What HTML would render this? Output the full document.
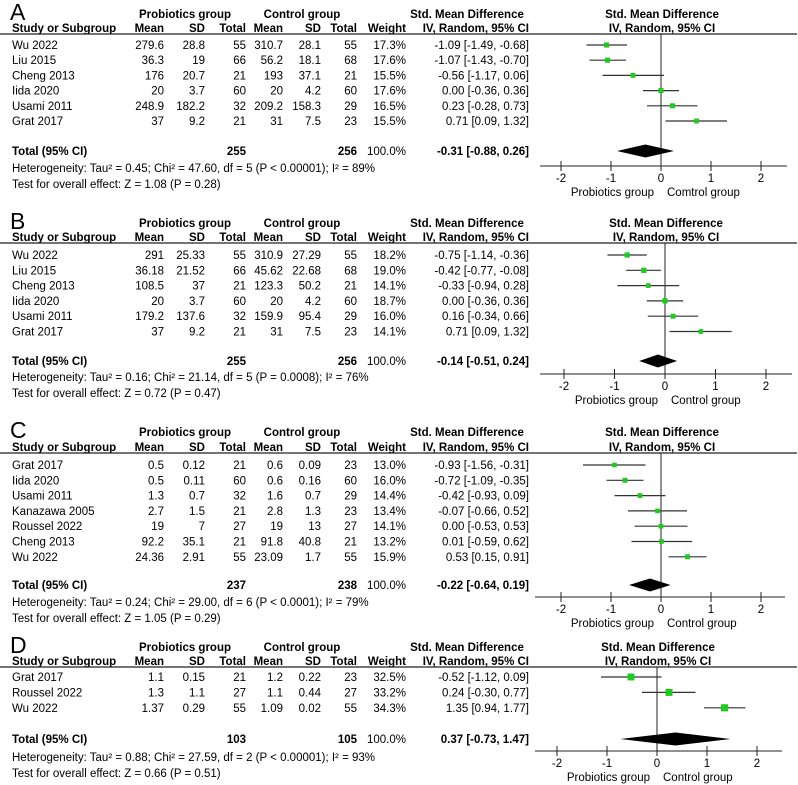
<!DOCTYPE html>
<html><head><meta charset="utf-8"><style>
html,body{margin:0;padding:0;background:#fff}
svg{display:block;font-family:"Liberation Sans",Arial,sans-serif}
</style></head><body>
<svg id="chart" width="798" height="785" viewBox="0 0 798 785" xmlns="http://www.w3.org/2000/svg"></svg>
<script>
// ---- Panel A data ----
const aStudies=["Wu 2022","Liu 2015","Cheng 2013","Iida 2020","Usami 2011","Grat 2017"];
const aTable=[["279.6","28.8","55","310.7","28.1","55","17.3%"],["36.3","19","66","56.2","18.1","68","17.6%"],["176","20.7","21","193","37.1","21","15.5%"],["20","3.7","60","20","4.2","60","17.6%"],["248.9","182.2","32","209.2","158.3","29","16.5%"],["37","9.2","21","31","7.5","23","15.5%"]];
const aSmd=[-1.09,-1.07,-0.56,0.00,0.23,0.71];
const aLo=[-1.49,-1.43,-1.17,-0.36,-0.28,0.09];
const aHi=[-0.68,-0.70,0.06,0.36,0.73,1.32];
const aWeight=[17.3,17.6,15.5,17.6,16.5,15.5];
const aTotal=[-0.31,-0.88,0.26];
const aTotals=["255","256"];
const aHet="Heterogeneity: Tau² = 0.45; Chi² = 47.60, df = 5 (P < 0.00001); I² = 89%";
const aTest="Test for overall effect: Z = 1.08 (P = 0.28)";
// ---- Panel B data ----
const bStudies=["Wu 2022","Liu 2015","Cheng 2013","Iida 2020","Usami 2011","Grat 2017"];
const bTable=[["291","25.33","55","310.9","27.29","55","18.2%"],["36.18","21.52","66","45.62","22.68","68","19.0%"],["108.5","37","21","123.3","50.2","21","14.1%"],["20","3.7","60","20","4.2","60","18.7%"],["179.2","137.6","32","159.9","95.4","29","16.0%"],["37","9.2","21","31","7.5","23","14.1%"]];
const bSmd=[-0.75,-0.42,-0.33,0.00,0.16,0.71];
const bLo=[-1.14,-0.77,-0.94,-0.36,-0.34,0.09];
const bHi=[-0.36,-0.08,0.28,0.36,0.66,1.32];
const bWeight=[18.2,19.0,14.1,18.7,16.0,14.1];
const bTotal=[-0.14,-0.51,0.24];
const bTotals=["255","256"];
const bHet="Heterogeneity: Tau² = 0.16; Chi² = 21.14, df = 5 (P = 0.0008); I² = 76%";
const bTest="Test for overall effect: Z = 0.72 (P = 0.47)";
// ---- Panel C data ----
const cStudies=["Grat 2017","Iida 2020","Usami 2011","Kanazawa 2005","Roussel 2022","Cheng 2013","Wu 2022"];
const cTable=[["0.5","0.12","21","0.6","0.09","23","13.0%"],["0.5","0.11","60","0.6","0.16","60","16.0%"],["1.3","0.7","32","1.6","0.7","29","14.4%"],["2.7","1.5","21","2.8","1.3","23","13.4%"],["19","7","27","19","13","27","14.1%"],["92.2","35.1","21","91.8","40.8","21","13.2%"],["24.36","2.91","55","23.09","1.7","55","15.9%"]];
const cSmd=[-0.93,-0.72,-0.42,-0.07,0.00,0.01,0.53];
const cLo=[-1.56,-1.09,-0.93,-0.66,-0.53,-0.59,0.15];
const cHi=[-0.31,-0.35,0.09,0.52,0.53,0.62,0.91];
const cWeight=[13.0,16.0,14.4,13.4,14.1,13.2,15.9];
const cTotal=[-0.22,-0.64,0.19];
const cTotals=["237","238"];
const cHet="Heterogeneity: Tau² = 0.24; Chi² = 29.00, df = 6 (P < 0.0001); I² = 79%";
const cTest="Test for overall effect: Z = 1.05 (P = 0.29)";
// ---- Panel D data ----
const dStudies=["Grat 2017","Roussel 2022","Wu 2022"];
const dTable=[["1.1","0.15","21","1.2","0.22","23","32.5%"],["1.3","1.1","27","1.1","0.44","27","33.2%"],["1.37","0.29","55","1.09","0.02","55","34.3%"]];
const dSmd=[-0.52,0.24,1.35];
const dLo=[-1.12,-0.30,0.94];
const dHi=[0.09,0.77,1.77];
const dWeight=[32.5,33.2,34.3];
const dTotal=[0.37,-0.73,1.47];
const dTotals=["103","105"];
const dHet="Heterogeneity: Tau² = 0.88; Chi² = 27.59, df = 2 (P < 0.00001); I² = 93%";
const dTest="Test for overall effect: Z = 0.66 (P = 0.51)";
const axisTicks=[-2,-1,0,1,2];

const svg=document.getElementById('chart');
const NS="http://www.w3.org/2000/svg";
const FS=11.5;
function mk(tag,attrs,txt){const e=document.createElementNS(NS,tag);for(const k in attrs)e.setAttribute(k,attrs[k]);if(txt!==undefined)e.textContent=txt;svg.appendChild(e);return e;}
const colX=[164,205,246,283,321,357,406];
function fmt(v){return v.toFixed(2);}
function ci(t){return fmt(t[0])+" ["+fmt(t[1])+", "+fmt(t[2])+"]";}

function panel(L){
  const xs=v=>L.x0+v*L.unit;
  let t;
  t=mk('text',{x:10,y:L.h1+6,'font-size':23});t.textContent=L.letter;
  
  const hdr=[["Probiotics group",185],["Control group",302],["Std. Mean Difference",467],["Std. Mean Difference",L.x0+1]];
  hdr.forEach(h=>{t=mk('text',{x:h[1],y:L.h1+4,'font-size':FS,'font-weight':'bold','text-anchor':'middle'},h[0]);});
  t=mk('text',{x:12,y:L.line-2,'font-size':FS,'font-weight':'bold'},"Study or Subgroup");
  ["Mean","SD","Total","Mean","SD","Total","Weight"].forEach((h,i)=>{t=mk('text',{x:colX[i],y:L.line-2,'font-size':FS,'font-weight':'bold','text-anchor':'end'},h);});
  t=mk('text',{x:529,y:L.line-2,'font-size':FS,'font-weight':'bold','text-anchor':'end'},"IV, Random, 95% CI");
  t=mk('text',{x:L.x0+1,y:L.line-2,'font-size':FS,'font-weight':'bold','text-anchor':'middle'},"IV, Random, 95% CI");
  t=mk('line',{x1:0,y1:L.line,x2:797,y2:L.line,stroke:'#222','stroke-width':1.2});
  t=mk('line',{x1:xs(0),y1:L.line,x2:xs(0),y2:L.axis,stroke:'#222','stroke-width':1});
  L.studies.forEach((s,i)=>{
    const y=L.row0+i*L.step;
    t=mk('text',{x:12,y:y+4,'font-size':FS},s);
    L.table[i].forEach((v,j)=>{t=mk('text',{x:colX[j],y:y+4,'font-size':FS,'text-anchor':'end'},v);});
    t=mk('text',{x:529,y:y+4,'font-size':FS,'text-anchor':'end'},ci([L.smd[i],L.lo[i],L.hi[i]]));
    t=mk('line',{x1:xs(L.lo[i]),y1:y,x2:xs(L.hi[i]),y2:y,stroke:'#333','stroke-width':1.2});
    const sz=3+L.wt[i]*0.12;
    t=mk('rect',{x:xs(L.smd[i])-sz/2,y:y-sz/2,width:sz,height:sz,fill:'#1ccc1c'});
  });
  const ty=L.total;
  t=mk('text',{x:12,y:ty+4,'font-size':FS,'font-weight':'bold'},"Total (95% CI)");
  t=mk('text',{x:colX[2],y:ty+4,'font-size':FS,'font-weight':'bold','text-anchor':'end'},L.totals[0]);
  t=mk('text',{x:colX[5],y:ty+4,'font-size':FS,'font-weight':'bold','text-anchor':'end'},L.totals[1]);
  t=mk('text',{x:colX[6],y:ty+4,'font-size':FS,'text-anchor':'end'},"100.0%");
  t=mk('text',{x:529,y:ty+4,'font-size':FS,'font-weight':'bold','text-anchor':'end'},ci(L.tot));
  const dh=6.5;
  t=mk('polygon',{points:`${xs(L.tot[1])},${ty} ${xs(L.tot[0])},${ty-dh} ${xs(L.tot[2])},${ty} ${xs(L.tot[0])},${ty+dh}`,fill:'#000'});
  t=mk('text',{x:12,y:L.het+4,'font-size':FS},L.hetTxt);
  t=mk('text',{x:12,y:L.test+4,'font-size':FS},L.testTxt);
  t=mk('line',{x1:L.ax1,y1:L.axis,x2:L.ax2,y2:L.axis,stroke:'#222','stroke-width':1});
  axisTicks.forEach(v=>{
    t=mk('line',{x1:xs(v),y1:L.axis-5,x2:xs(v),y2:L.axis+5,stroke:'#222','stroke-width':1});
    t=mk('text',{x:xs(v),y:L.axis+16,'font-size':FS,'text-anchor':'middle'},String(v));
  });
  t=mk('text',{x:xs(0)-7,y:L.axis+30,'font-size':FS,'text-anchor':'end'},"Probiotics group");
  t=mk('text',{x:xs(0)+6,y:L.axis+30,'font-size':FS},L.ctrlLbl);
}
panel({letter:'A',x0:661,unit:50,h1:14,line:34,row0:45,step:15.2,total:151,het:168,test:184,axis:166,ax1:540,ax2:787,studies:aStudies,table:aTable,smd:aSmd,lo:aLo,hi:aHi,wt:aWeight,tot:aTotal,totals:aTotals,hetTxt:aHet,testTxt:aTest,ctrlLbl:'Comtrol group'});
panel({letter:'B',x0:665,unit:50.5,h1:223,line:243,row0:255,step:15.3,total:361,het:377,test:393,axis:374,ax1:540,ax2:792,studies:bStudies,table:bTable,smd:bSmd,lo:bLo,hi:bHi,wt:bWeight,tot:bTotal,totals:bTotals,hetTxt:bHet,testTxt:bTest,ctrlLbl:'Control group'});
panel({letter:'C',x0:661,unit:50,h1:432,line:453,row0:465,step:15.3,total:585,het:602,test:618,axis:597,ax1:535,ax2:785,studies:cStudies,table:cTable,smd:cSmd,lo:cLo,hi:cHi,wt:cWeight,tot:cTotal,totals:cTotals,hetTxt:cHet,testTxt:cTest,ctrlLbl:'Control group'});
panel({letter:'D',x0:657,unit:50,h1:647,line:667,row0:677,step:15.4,total:739,het:757,test:773,axis:751,ax1:535,ax2:782,studies:dStudies,table:dTable,smd:dSmd,lo:dLo,hi:dHi,wt:dWeight,tot:dTotal,totals:dTotals,hetTxt:dHet,testTxt:dTest,ctrlLbl:'Control group'});
</script>
</body></html>
